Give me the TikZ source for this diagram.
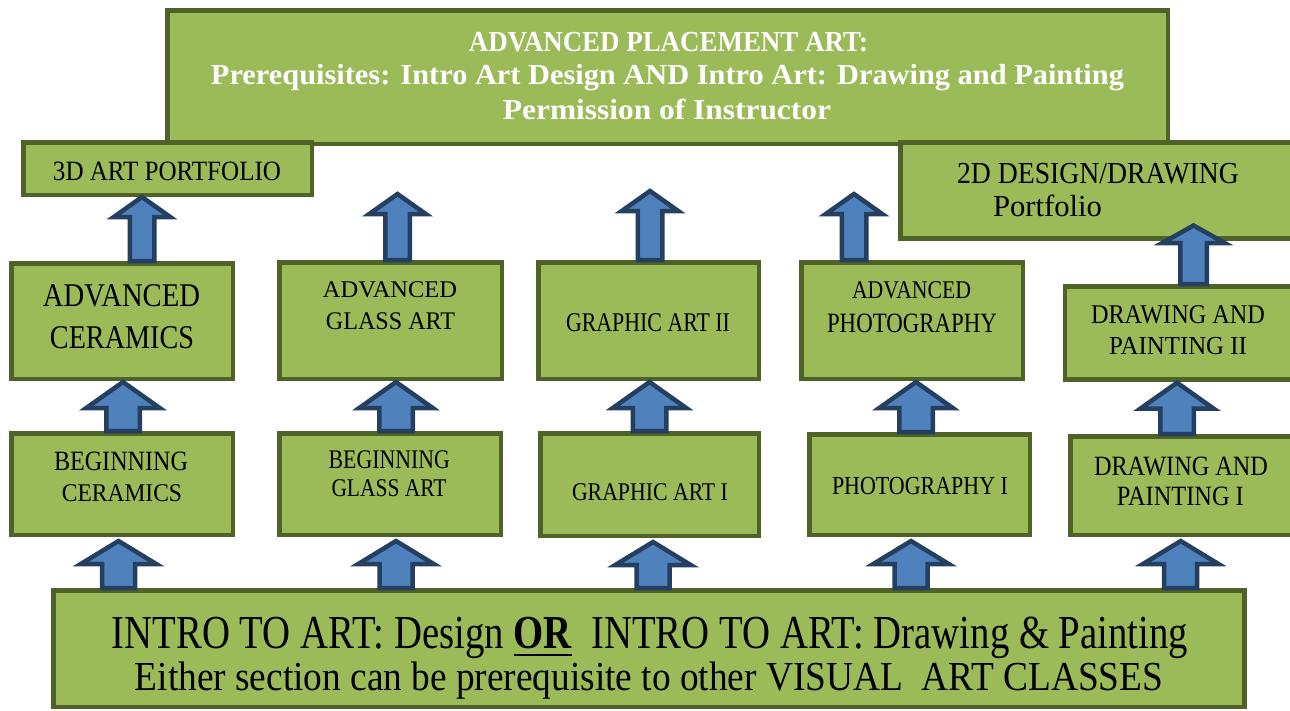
\documentclass[tikz,border=0pt]{standalone}
\usepackage{fontspec}
\usepackage{graphicx}
\setmainfont{Liberation Serif}
\usetikzlibrary{calc}
\definecolor{boxfill}{HTML}{9BBB59}
\definecolor{boxborder}{HTML}{4F6228}
\definecolor{arrowfill}{HTML}{4F81BD}
\definecolor{arrowborder}{HTML}{243F60}
\newcommand{\fit}[3]{\resizebox{#1}{#2}{\vphantom{X}\smash{#3}}}
\newcommand{\blockup}[5]{%
  \draw[barrow] let \p1=(#1), \p2=(#2) in
    (\x1-#4pt,\y1) -- (\x1-#4pt,\y2-#5pt) -- (\x1-#3pt,\y2-#5pt) -- (\x1,\y2)
    -- (\x1+#3pt,\y2-#5pt) -- (\x1+#4pt,\y2-#5pt) -- (\x1+#4pt,\y1) -- cycle;}
\tikzset{
  box/.style={draw=boxborder, fill=boxfill, line width=4.5pt, inner sep=0pt, rectangle},
  lbl/.style={anchor=base, inner sep=0pt, outer sep=0pt},
  barrow/.style={draw=arrowborder, fill=arrowfill, line width=4.5pt, line join=miter},
}
\begin{document}
\begin{tikzpicture}[x=1pt, y=-1pt]
\useasboundingbox (0,0) rectangle (1290,710);
\clip (0,0) rectangle (1290,710);
% boxes
\node[box, minimum width=1000.5pt, minimum height=133.5pt] (top) at (667.5,77) {};
\node[box, minimum width=288.5pt, minimum height=52.5pt] (p3d) at (167.5,168.5) {};
\node[box, minimum width=397.5pt, minimum height=96pt] (p2d) at (1099,190.25) {};
\node[box, minimum width=221.5pt, minimum height=115.5pt] (advcer) at (122,321) {};
\node[box, minimum width=222.5pt, minimum height=116.5pt] (advgla) at (390.5,320.5) {};
\node[box, minimum width=220.5pt, minimum height=116.5pt] (gra2) at (648.5,320.5) {};
\node[box, minimum width=221.5pt, minimum height=116.5pt] (advpho) at (912,320.5) {};
\node[box, minimum width=232.8pt, minimum height=93.2pt] (dp2) at (1181.35,332.85) {};
\node[box, minimum width=221.5pt, minimum height=101.5pt] (begcer) at (122,484) {};
\node[box, minimum width=221.5pt, minimum height=101.5pt] (beggla) at (390,484) {};
\node[box, minimum width=218.5pt, minimum height=102.5pt] (gra1) at (649.5,484.5) {};
\node[box, minimum width=220.5pt, minimum height=100.5pt] (pho1) at (919.5,484.5) {};
\node[box, minimum width=227.5pt, minimum height=98.5pt] (dp1) at (1184,485.5) {};
\node[box, minimum width=1191.2pt, minimum height=116.5pt] (intro) at (648.85,648.5) {};
% texts
\begin{scope}[every node/.style={lbl}]
\node[text=white, font=\bfseries] (t1) at (668.5,51) {\fit{399pt}{19pt}{ADVANCED PLACEMENT ART:}};
\node[text=white, font=\bfseries] (t2) at (667.5,84) {\fit{913pt}{19pt}{Prerequisites: Intro Art Design AND Intro Art: Drawing and Painting}};
\node[text=white, font=\bfseries] (t3) at (667,119) {\fit{328pt}{19pt}{Permission of Instructor}};
\node (l3d) at (167,180) {\fit{228pt}{18.3pt}{3D ART PORTFOLIO}};
\node (l2da) at (1098,183) {\fit{282pt}{20pt}{2D DESIGN/DRAWING}};
\node (l2db) at (1047.5,216.7) {\fit{109pt}{20pt}{Portfolio}};
\node (lac1) at (121.5,306.7) {\fit{157pt}{21.7pt}{ADVANCED}};
\node (lac2) at (122,348.3) {\fit{144pt}{21.7pt}{CERAMICS}};
\node (lag1) at (390,297.3) {\fit{134pt}{15.7pt}{ADVANCED}};
\node (lag2) at (390.5,329.3) {\fit{129pt}{16.6pt}{GLASS ART}};
\node (lg2) at (648,331.7) {\fit{164pt}{17.7pt}{GRAPHIC ART II}};
\node (lap1) at (911.5,298.3) {\fit{119pt}{16.7pt}{ADVANCED}};
\node (lap2) at (912,332.3) {\fit{170pt}{18.3pt}{PHOTOGRAPHY}};
\node (ld21) at (1178,323.3) {\fit{174pt}{17.7pt}{DRAWING AND}};
\node (ld22) at (1178,354.2) {\fit{137.7pt}{17pt}{PAINTING II}};
\node (lbc1) at (121,470) {\fit{134pt}{18.3pt}{BEGINNING}};
\node (lbc2) at (122,501.7) {\fit{120pt}{16.7pt}{CERAMICS}};
\node (lbg1) at (389.3,468.3) {\fit{121.4pt}{17.6pt}{BEGINNING}};
\node (lbg2) at (389,496.7) {\fit{115pt}{16.7pt}{GLASS ART}};
\node (lg1) at (650,500.7) {\fit{156pt}{16.7pt}{GRAPHIC ART I}};
\node (lp1) at (920,494) {\fit{176pt}{17pt}{PHOTOGRAPHY I}};
\node (ld11) at (1181,475) {\fit{174pt}{18.3pt}{DRAWING AND}};
\node (ld12) at (1180.3,505) {\fit{127pt}{18.3pt}{PAINTING I}};
\node (li1) at (650,648) {\fit{1076pt}{31pt}{INTRO TO ART: Design \textbf{\underline{OR}}\ \ INTRO TO ART: Drawing \& Painting}};
\node (li2) at (649,690) {\fit{1028pt}{27pt}{Either section can be prerequisite to other VISUAL\ \ ART CLASSES}};
\end{scope}
% arrow positions
\coordinate (b1) at (118.5,0); \coordinate (b2) at (396,0); \coordinate (b3) at (653,0);
\coordinate (b4) at (911,0); \coordinate (b5) at (1180.7,0);
\coordinate (m1) at (123,0); \coordinate (m2) at (396,0); \coordinate (m3) at (649.5,0);
\coordinate (m4) at (916,0); \coordinate (m5) at (1177,0);
\coordinate (u1) at (142,0);
\coordinate (tg) at (397.5,194); \coordinate (tr) at (650,191); \coordinate (tp) at (854,194);
\coordinate (t2d) at (1193.5,225.5);
% bottom row arrows
\blockup{b1 |- intro.north}{$(b1 |- begcer.south)+(0,4)$}{37.75}{16.5}{23}
\blockup{b2 |- intro.north}{$(b2 |- beggla.south)+(0,4)$}{37.75}{16.5}{23}
\blockup{b3 |- intro.north}{$(b3 |- gra1.south)+(0,4)$}{37.75}{16.5}{23}
\blockup{b4 |- intro.north}{$(b4 |- pho1.south)+(0,4)$}{37.75}{16.5}{23}
\blockup{b5 |- intro.north}{$(b5 |- dp1.south)+(0,4)$}{37.75}{16.5}{23}
% middle row arrows
\blockup{m1 |- begcer.north}{$(m1 |- advcer.south)+(0,1)$}{36.75}{16.75}{26}
\blockup{m2 |- beggla.north}{$(m2 |- advgla.south)+(0,1)$}{36.75}{16.75}{26}
\blockup{m3 |- gra1.north}{$(m3 |- gra2.south)+(0,1)$}{36.75}{16.75}{26}
\blockup{m4 |- pho1.north}{$(m4 |- advpho.south)+(0,1)$}{36.75}{16.75}{26}
\blockup{m5 |- dp1.north}{$(m5 |- dp2.south)+(0,1)$}{36.75}{16.75}{26}
% top row arrows
\blockup{u1 |- advcer.north}{u1 |- p3d.south}{28.25}{12.25}{20}
\blockup{tg |- advgla.north}{tg}{28.25}{12.25}{20}
\blockup{tr |- gra2.north}{tr}{28.25}{12.25}{20}
\blockup{tp |- advpho.north}{tp}{28.25}{12.25}{20}
\blockup{t2d |- dp2.north}{t2d}{31.25}{13.25}{17.5}
\end{tikzpicture}
\end{document}
